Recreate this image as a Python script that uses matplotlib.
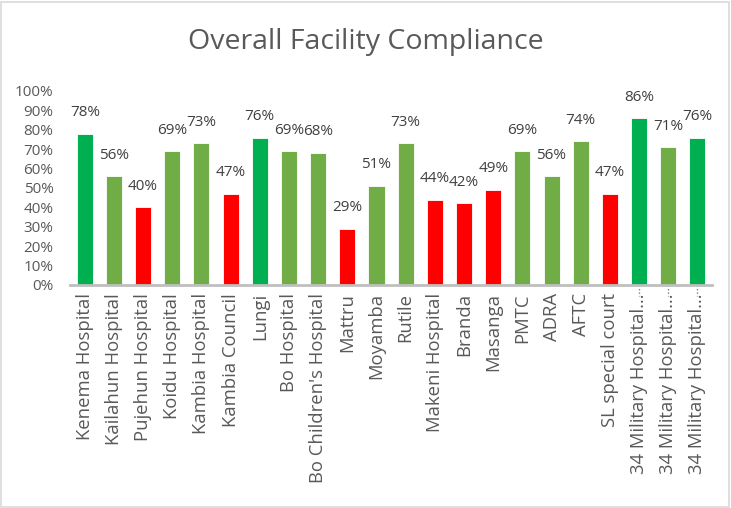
import matplotlib
matplotlib.use("Agg")
import matplotlib.pyplot as plt
from matplotlib.patches import Rectangle

categories = ["Kenema Hospital", "Kailahun Hospital", "Pujehun Hospital", "Koidu Hospital",
              "Kambia Hospital", "Kambia Council", "Lungi", "Bo Hospital",
              "Bo Children's Hospital", "Mattru", "Moyamba", "Rutile", "Makeni Hospital",
              "Branda", "Masanga", "PMTC", "ADRA", "AFTC", "SL special court",
              "34 Military Hospital\u2026", "34 Military Hospital\u2026", "34 Military Hospital\u2026"]
values = [78, 56, 40, 69, 73, 47, 76, 69, 68, 29, 51, 73, 44, 42, 49, 69, 56, 74, 47, 86, 71, 76]
ratings = ["high", "mid", "low", "mid", "mid", "low", "high", "mid", "mid", "low", "mid", "mid",
           "low", "low", "low", "mid", "mid", "mid", "low", "high", "mid", "high"]
palette = {"high": "#00B050", "mid": "#70AD47", "low": "#FF0000"}
truncated = [i for i, c in enumerate(categories) if c.endswith("\u2026")]

plt.rcParams['font.family'] = ['Open Sans', 'DejaVu Sans']

fig = plt.figure(figsize=(7.31, 5.08), dpi=100)
fig.patches.append(Rectangle((0.001, 0.002), 0.996, 0.995, transform=fig.transFigure,
                             fill=False, edgecolor="#D9D9D9", linewidth=1.2))
ax = fig.add_axes([0.096, 0.439, 0.878, 0.382])

x = list(range(len(categories)))
vals = [v / 100 for v in values]
colors = [palette[r] for r in ratings]
ax.bar(x, vals, width=0.55, color=colors, edgecolor="white", linewidth=0.6)

for xi, v in zip(x, values):
    ax.text(xi, v / 100 + 0.07, f"{v}%", ha="center", va="bottom", fontsize=11,
            color="#404040")

# dotted tick marks under truncated multi-level labels
for xi in truncated:
    ax.plot([xi, xi], [0, -0.055], linestyle=(0, (1, 1.5)), color="#808080",
            linewidth=1, clip_on=False)

ax.set_xlim(-0.5, len(categories) - 0.5)
ax.set_ylim(0, 1.0)
ax.set_yticks([i / 10 for i in range(11)])
ax.set_yticklabels([f"{i*10}%" for i in range(11)], fontsize=11, color="#595959")
ax.set_xticks(x)
ax.set_xticklabels(categories, rotation=90, fontsize=13.3, color="#595959")
ax.tick_params(axis="y", length=0, pad=12)
ax.tick_params(axis="x", length=0, pad=6)
for s in ["top", "right", "left"]:
    ax.spines[s].set_visible(False)
ax.spines["bottom"].set_color("#BFBFBF")
ax.spines["bottom"].set_linewidth(2)

fig.text(0.5, 0.917, "Overall Facility Compliance", ha="center", va="center",
         fontsize=20.5, color="#595959")

fig.savefig("out.png", dpi=100)
